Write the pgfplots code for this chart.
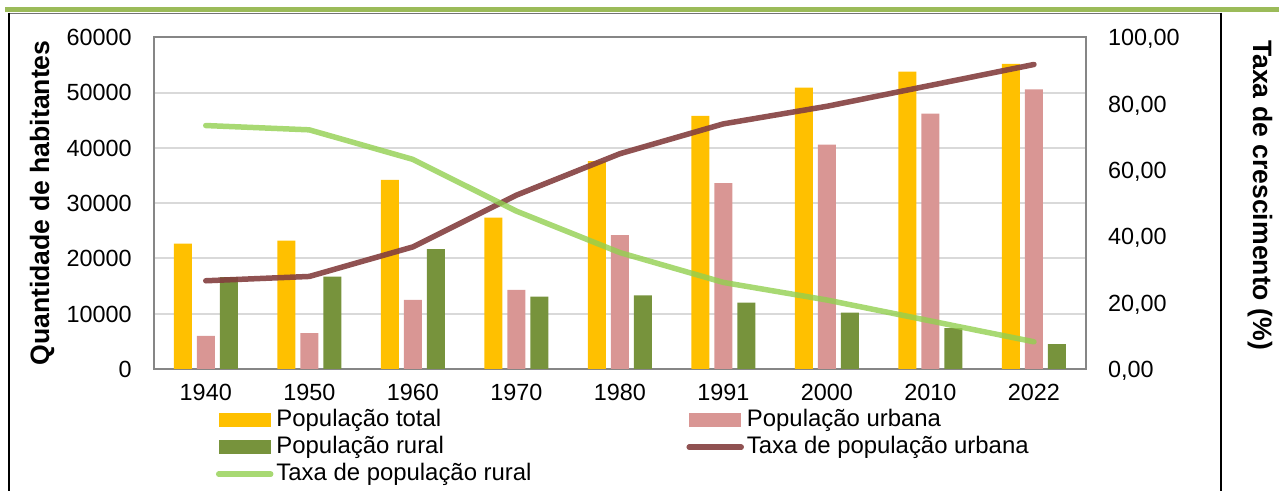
\documentclass[border=0pt]{standalone}
\usepackage{fontspec}
\setmainfont{Liberation Sans}
\usepackage{pgfplots}
\pgfplotsset{compat=1.18}
\definecolor{ctot}{HTML}{FFC000}
\definecolor{curb}{HTML}{D99694}
\definecolor{crur}{HTML}{77933C}
\definecolor{lurb}{HTML}{843F3F}
\definecolor{lrur}{HTML}{92D050}
\definecolor{frameg}{HTML}{9BBB59}
\definecolor{axgray}{HTML}{868686}
\definecolor{gridgray}{HTML}{D9D9D9}
\pgfplotsset{
  barleg/.style={legend image code/.code={\fill[##1, draw=none] (0pt,-3.5pt) rectangle (26pt,3.5pt);}},
  linleg/.style={legend image code/.code={\draw[##1] (0pt,0pt) -- (26pt,0pt);}},
}
\begin{document}
\begin{tikzpicture}
\path[use as bounding box] (0pt,0pt) rectangle (639.5pt,-245.5pt);
\draw[frameg, line width=2.5pt] (2.5pt,-5pt) -- (639.5pt,-5pt);
\draw[black!55, line width=0.6pt] (4.65pt,-6.7pt) -- (610.5pt,-6.7pt);
\draw[black, line width=1pt] (4.65pt,-6.3pt) -- (4.65pt,-245.5pt);
\draw[black, line width=1pt] (610.5pt,-6.3pt) -- (610.5pt,-245.5pt);

\begin{axis}[
  at={(77pt,-18.65pt)}, anchor=north west,
  scale only axis, width=465.85pt, height=165.85pt,
  xmin=-0.5, xmax=8.5, ymin=0, ymax=60000,
  xtick={0,1,2,3,4,5,6,7,8},
  xticklabels={1940,1950,1960,1970,1980,1991,2000,2010,2022},
  ytick={0,10000,20000,30000,40000,50000,60000},
  scaled y ticks=false,
  /pgf/number format/set thousands separator={},
  /pgf/number format/assume math mode=true,
  major tick length=0pt,
  ymajorgrids, grid style={draw=gridgray, line width=1pt},
  axis line style={draw=axgray, line width=1pt},
  tick label style={font=\fontsize{11.7}{14}\selectfont},
  yticklabel style={anchor=base east, inner sep=0pt, xshift=-11pt, yshift=-4.2pt},
  xticklabel style={anchor=north, inner sep=0pt, yshift=-7.3pt},
  ybar=2.5pt, bar width=9pt,
]
\addplot[fill=ctot, draw=none] coordinates {(0,22700) (1,23200) (2,34200) (3,27400) (4,37600) (5,45800) (6,50900) (7,53800) (8,55200)};
\addplot[fill=curb, draw=none] coordinates {(0,6000) (1,6500) (2,12500) (3,14300) (4,24200) (5,33600) (6,40600) (7,46200) (8,50600)};
\addplot[fill=crur, draw=none] coordinates {(0,16600) (1,16700) (2,21700) (3,13100) (4,13300) (5,12000) (6,10200) (7,7400) (8,4500)};
\end{axis}

\begin{axis}[
  at={(77pt,-18.65pt)}, anchor=north west,
  scale only axis, width=465.85pt, height=165.85pt,
  xmin=-0.5, xmax=8.5, ymin=0, ymax=100,
  axis x line=none, axis y line*=right,
  y axis line style={draw=none},
  ytick={0,20,40,60,80,100}, major tick length=0pt,
  /pgf/number format/fixed, /pgf/number format/fixed zerofill,
  /pgf/number format/precision=2, /pgf/number format/use comma,
  /pgf/number format/assume math mode=true,
  tick label style={font=\fontsize{11.7}{14}\selectfont},
  yticklabel style={anchor=base west, inner sep=0pt, xshift=11pt, yshift=-4.2pt},
  clip=false,
  legend columns=2,
  legend cell align=left,
  legend style={draw=none, fill=none, inner sep=0pt, outer sep=0pt,
    at={(rel axis cs:0.0665,-0.1206)}, anchor=north west,
    font=\fontsize{11.95}{14}\selectfont,
    column sep=0pt, row sep=2.3pt,
    /tikz/every odd column/.style={column sep=1.5pt},
    /tikz/every even column/.style={column sep=0pt},
    nodes={inner sep=0pt, text height=8.6pt, text depth=2.6pt}},
]
\addlegendimage{barleg, fill=ctot}
\addlegendentry{\makebox[205pt][l]{População total}}
\addlegendimage{barleg, fill=curb}
\addlegendentry{População urbana}
\addlegendimage{barleg, fill=crur}
\addlegendentry{\makebox[205pt][l]{População rural}}
\addplot[linleg, draw=lurb, draw opacity=0.9, line width=2.75pt, line cap=round, line join=round] coordinates {(0,26.6) (1,27.9) (2,36.8) (3,52.4) (4,64.9) (5,73.9) (6,79.2) (7,85.5) (8,91.8)};
\addlegendentry{Taxa de população urbana}
\addplot[linleg, draw=lrur, draw opacity=0.8, line width=2.75pt, line cap=round, line join=round] coordinates {(0,73.4) (1,72.1) (2,63.2) (3,47.6) (4,35.1) (5,26.1) (6,20.8) (7,14.5) (8,8.2)};
\addlegendentry{\makebox[205pt][l]{Taxa de população rural}}
\end{axis}

\node[rotate=90, font=\fontsize{13.3}{16}\selectfont\bfseries, inner sep=0pt] at (21pt,-101.5pt) {Quantidade de habitantes};
\node[rotate=-90, font=\fontsize{13.3}{16}\selectfont\bfseries, inner sep=0pt] at (630pt,-97.5pt) {Taxa de crescimento (\%)};
\end{tikzpicture}
\end{document}
